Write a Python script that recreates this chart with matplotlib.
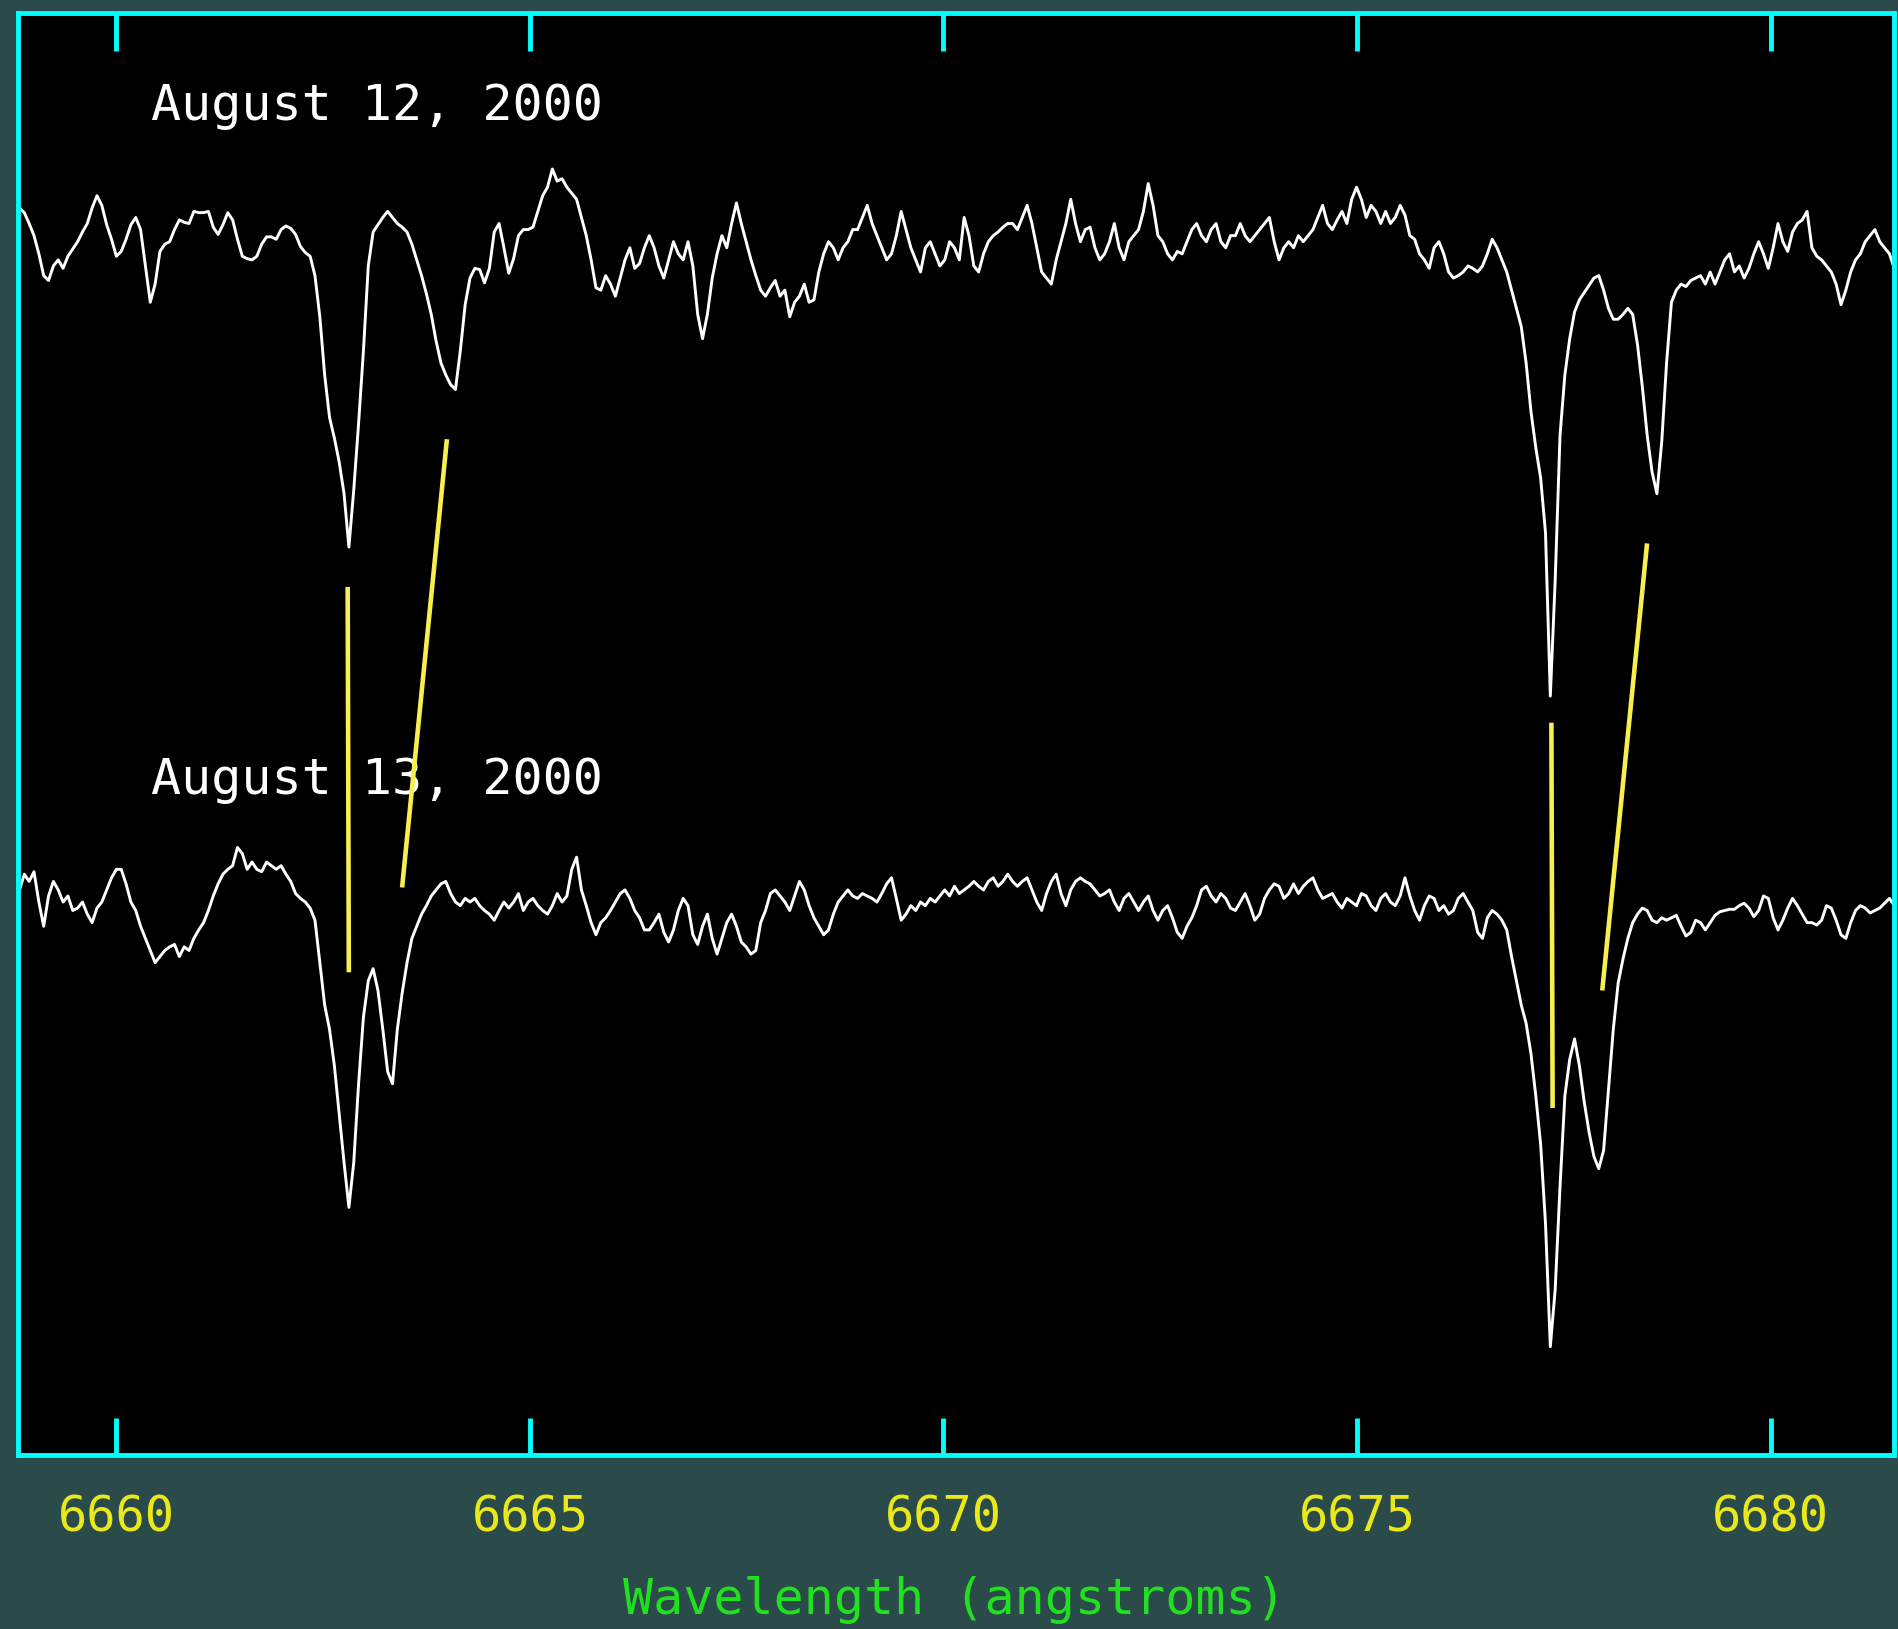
import numpy as np
import matplotlib
matplotlib.use("Agg")
import matplotlib.pyplot as plt

plt.rcParams['font.family'] = ['DejaVu Sans Mono']

# Wavelength grid of the spectra (start, step in angstroms)
W0 = 6658.829
DW = 0.05857

# Normalised flux, August 12, 2000 (upper trace)
flux_aug12 = [
    1.066, 1.058, 1.040, 1.020, 0.990, 0.954, 0.946, 0.970, 0.980, 0.966,
    0.986, 0.998, 1.010, 1.026, 1.040, 1.066, 1.086, 1.070, 1.038, 1.014,
    0.986, 0.994, 1.014, 1.038, 1.050, 1.030, 0.970, 0.910, 0.940, 0.994,
    1.006, 1.010, 1.030, 1.046, 1.042, 1.040, 1.060, 1.058, 1.058, 1.060,
    1.034, 1.022, 1.038, 1.058, 1.046, 1.014, 0.986, 0.982, 0.980, 0.986,
    1.006, 1.018, 1.018, 1.014, 1.030, 1.036, 1.032, 1.022, 1.002, 0.992,
    0.986, 0.954, 0.886, 0.790, 0.720, 0.686, 0.646, 0.594, 0.506, 0.600,
    0.710, 0.830, 0.970, 1.026, 1.038, 1.050, 1.060, 1.050, 1.040, 1.034,
    1.026, 1.006, 0.980, 0.954, 0.924, 0.890, 0.846, 0.810, 0.790, 0.774,
    0.766, 0.830, 0.906, 0.950, 0.966, 0.964, 0.942, 0.966, 1.026, 1.040,
    1.000, 0.958, 0.982, 1.020, 1.030, 1.030, 1.034, 1.060, 1.086, 1.100,
    1.130, 1.110, 1.114, 1.100, 1.090, 1.080, 1.050, 1.020, 0.980, 0.934,
    0.930, 0.954, 0.940, 0.920, 0.950, 0.980, 1.000, 0.966, 0.974, 1.000,
    1.020, 1.000, 0.970, 0.950, 0.980, 1.010, 0.990, 0.980, 1.010, 0.970,
    0.890, 0.850, 0.890, 0.950, 0.990, 1.020, 1.000, 1.040, 1.074, 1.040,
    1.010, 0.980, 0.954, 0.930, 0.920, 0.934, 0.946, 0.920, 0.930, 0.886,
    0.910, 0.920, 0.940, 0.910, 0.914, 0.960, 0.990, 1.010, 1.000, 0.980,
    1.000, 1.010, 1.030, 1.030, 1.050, 1.070, 1.040, 1.020, 1.000, 0.980,
    0.990, 1.020, 1.060, 1.030, 1.000, 0.980, 0.960, 1.000, 1.010, 0.990,
    0.970, 0.980, 1.010, 1.000, 0.980, 1.050, 1.020, 0.970, 0.960, 0.990,
    1.010, 1.020, 1.026, 1.034, 1.040, 1.040, 1.030, 1.050, 1.070, 1.040,
    1.000, 0.960, 0.950, 0.940, 0.980, 1.010, 1.040, 1.080, 1.040, 1.010,
    1.030, 1.034, 1.000, 0.980, 0.990, 1.010, 1.040, 1.000, 0.980, 1.010,
    1.020, 1.030, 1.060, 1.106, 1.070, 1.020, 1.010, 0.990, 0.980, 0.994,
    0.990, 1.010, 1.030, 1.040, 1.020, 1.010, 1.030, 1.040, 1.010, 1.000,
    1.020, 1.020, 1.040, 1.020, 1.010, 1.020, 1.030, 1.040, 1.050, 1.010,
    0.980, 1.000, 1.010, 1.000, 1.020, 1.010, 1.020, 1.030, 1.050, 1.070,
    1.040, 1.030, 1.046, 1.060, 1.040, 1.080, 1.100, 1.080, 1.050, 1.070,
    1.060, 1.040, 1.060, 1.040, 1.050, 1.070, 1.054, 1.020, 1.014, 0.990,
    0.980, 0.966, 1.000, 1.010, 0.990, 0.960, 0.950, 0.954, 0.960, 0.970,
    0.966, 0.960, 0.970, 0.990, 1.014, 1.000, 0.980, 0.960, 0.930, 0.900,
    0.870, 0.810, 0.730, 0.670, 0.620, 0.530, 0.260, 0.450, 0.690, 0.790,
    0.850, 0.894, 0.914, 0.926, 0.938, 0.950, 0.954, 0.930, 0.900, 0.882,
    0.882, 0.890, 0.900, 0.890, 0.840, 0.770, 0.690, 0.630, 0.594, 0.680,
    0.810, 0.910, 0.930, 0.940, 0.936, 0.946, 0.950, 0.954, 0.940, 0.960,
    0.940, 0.960, 0.980, 0.990, 0.960, 0.970, 0.950, 0.966, 0.990, 1.010,
    0.990, 0.966, 1.000, 1.040, 1.010, 0.994, 1.026, 1.040, 1.046, 1.060,
    1.000, 0.986, 0.980, 0.970, 0.960, 0.940, 0.906, 0.930, 0.960, 0.980,
    0.990, 1.010, 1.020, 1.030, 1.010, 1.000, 0.990, 0.966,
]

# Normalised flux, August 13, 2000 (lower trace)
flux_aug13 = [
    1.020, 1.046, 1.034, 1.050, 1.000, 0.960, 1.010, 1.034, 1.020, 1.000,
    1.010, 0.986, 0.990, 1.000, 0.980, 0.966, 0.990, 1.000, 1.020, 1.040,
    1.054, 1.054, 1.030, 1.000, 0.986, 0.960, 0.940, 0.920, 0.900, 0.910,
    0.920, 0.926, 0.930, 0.910, 0.926, 0.920, 0.940, 0.954, 0.966, 0.986,
    1.010, 1.030, 1.046, 1.054, 1.060, 1.090, 1.080, 1.054, 1.066, 1.054,
    1.050, 1.066, 1.060, 1.054, 1.060, 1.046, 1.034, 1.014, 1.006, 1.000,
    0.990, 0.970, 0.900, 0.830, 0.790, 0.730, 0.650, 0.570, 0.496, 0.570,
    0.700, 0.810, 0.870, 0.890, 0.854, 0.790, 0.720, 0.700, 0.790, 0.850,
    0.900, 0.940, 0.960, 0.980, 0.994, 1.010, 1.020, 1.030, 1.034, 1.014,
    1.000, 0.994, 1.006, 1.000, 1.006, 0.994, 0.986, 0.980, 0.970, 0.986,
    1.000, 0.990, 1.000, 1.014, 0.986, 1.000, 1.006, 0.994, 0.986, 0.980,
    0.994, 1.014, 1.000, 1.010, 1.054, 1.074, 1.020, 0.994, 0.966, 0.946,
    0.966, 0.974, 0.986, 1.000, 1.014, 1.020, 1.006, 0.986, 0.974, 0.954,
    0.954, 0.966, 0.980, 0.950, 0.934, 0.954, 0.986, 1.006, 0.994, 0.946,
    0.930, 0.960, 0.980, 0.940, 0.914, 0.940, 0.966, 0.980, 0.960, 0.934,
    0.926, 0.914, 0.920, 0.966, 0.986, 1.014, 1.020, 1.010, 1.000, 0.986,
    1.010, 1.034, 1.020, 0.994, 0.974, 0.960, 0.946, 0.954, 0.980, 1.000,
    1.010, 1.020, 1.010, 1.006, 1.014, 1.010, 1.006, 1.000, 1.014, 1.030,
    1.040, 1.006, 0.970, 0.980, 0.994, 0.986, 1.000, 0.994, 1.006, 1.000,
    1.010, 1.020, 1.010, 1.026, 1.014, 1.020, 1.026, 1.034, 1.026, 1.020,
    1.034, 1.040, 1.026, 1.034, 1.046, 1.034, 1.026, 1.034, 1.040, 1.020,
    1.000, 0.986, 1.014, 1.034, 1.046, 1.014, 0.994, 1.020, 1.034, 1.040,
    1.034, 1.030, 1.020, 1.010, 1.014, 1.020, 1.000, 0.986, 1.006, 1.014,
    1.000, 0.986, 1.000, 1.010, 0.986, 0.970, 0.986, 0.994, 0.974, 0.950,
    0.940, 0.960, 0.974, 0.994, 1.020, 1.026, 1.010, 1.000, 1.014, 1.006,
    0.990, 0.986, 1.000, 1.014, 0.994, 0.970, 0.980, 1.006, 1.020, 1.030,
    1.026, 1.006, 1.014, 1.030, 1.014, 1.026, 1.034, 1.040, 1.020, 1.006,
    1.010, 1.014, 1.000, 0.990, 1.006, 1.000, 0.994, 1.014, 1.010, 0.994,
    0.986, 1.006, 1.014, 1.000, 0.994, 1.010, 1.040, 1.010, 0.986, 0.970,
    0.994, 1.010, 1.006, 0.986, 0.994, 0.980, 0.986, 1.006, 1.014, 1.000,
    0.986, 0.950, 0.940, 0.974, 0.986, 0.980, 0.970, 0.954, 0.910, 0.870,
    0.830, 0.800, 0.750, 0.680, 0.600, 0.470, 0.266, 0.360, 0.530, 0.680,
    0.740, 0.774, 0.730, 0.670, 0.620, 0.580, 0.560, 0.590, 0.690, 0.790,
    0.866, 0.906, 0.940, 0.966, 0.980, 0.990, 0.986, 0.970, 0.966, 0.974,
    0.970, 0.974, 0.978, 0.960, 0.944, 0.950, 0.970, 0.966, 0.954, 0.966,
    0.978, 0.984, 0.986, 0.988, 0.988, 0.994, 0.998, 0.990, 0.976, 0.986,
    1.010, 1.006, 0.974, 0.954, 0.970, 0.990, 1.006, 0.994, 0.980, 0.966,
    0.966, 0.962, 0.970, 0.994, 0.990, 0.970, 0.946, 0.940, 0.966, 0.986,
    0.994, 0.990, 0.982, 0.986, 0.990, 0.998, 1.006, 0.994,
]

# vertical shift of the upper trace
OFFSET = 1.08

# yellow marker lines joining the line components (wavelength pairs, plotted y pairs)
mark_wave = [(6662.797, 6662.811), (6663.997, 6663.455),
             (6677.350, 6677.365), (6678.507, 6677.965)]
mark_y = [(1.520, 0.884), (1.764, 1.024), (1.296, 0.660), (1.592, 0.854)]

labels = ['August 12, 2000', 'August 13, 2000']
label_pos = [(6660.425, 2.314), (6660.425, 1.202)]

xticks = [6660, 6665, 6670, 6675, 6680]

BG = '#2b4a4a'
CYAN = '#00ffff'

wave = W0 + DW * np.arange(len(flux_aug12))
wave13 = W0 + DW * np.arange(len(flux_aug13))

fig = plt.figure(figsize=(18.99, 16.29), dpi=100, facecolor=BG)
ax = fig.add_axes([0.0096, 0.1071, 0.9878, 0.8851])
ax.set_facecolor('black')

ax.plot(wave, np.array(flux_aug12) + OFFSET, color='white', lw=2.1)
ax.plot(wave13, flux_aug13, color='white', lw=2.1)

for (tx, ty), s in zip(label_pos, labels):
    ax.text(tx, ty, s, color='white', fontsize=36, va='center', ha='left')

for xs, ys in zip(mark_wave, mark_y):
    ax.plot(xs, ys, color='#f7ef4f', lw=3.3, solid_capstyle='butt', zorder=5)

ax.set_xlim(6658.814, 6681.493)
ax.set_ylim(0.088, 2.468)
ax.set_yticks([])
ax.set_xticks(xticks)
ax.tick_params(axis='x', direction='in', length=27, width=3.5, color=CYAN,
               labelcolor='#e8e81a', labelsize=35, pad=28, top=True)
for sp in ax.spines.values():
    sp.set_color(CYAN)
    sp.set_linewidth(3.5)

fig.text(0.5025, 0.0092, 'Wavelength (angstroms)', color='#20e020',
         fontsize=36, ha='center', va='baseline')

fig.savefig('out.png', dpi=100, facecolor=BG)
